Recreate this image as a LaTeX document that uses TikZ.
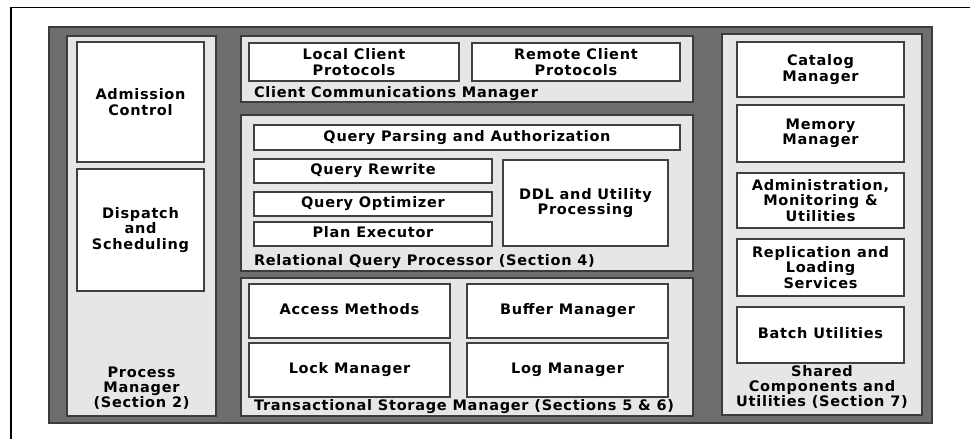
\documentclass[tikz,border=0pt]{standalone}
\usepackage{fontspec}
\setmainfont{DejaVu Sans}[LetterSpace=5]
\definecolor{darkpanel}{HTML}{6E6E6E}
\definecolor{darkedge}{HTML}{3C3C3C}
\definecolor{lightpanel}{HTML}{E6E6E6}
\definecolor{boxedge}{HTML}{404040}
\begin{document}
\begin{tikzpicture}[x=1pt,y=-1pt,
  every node/.style={font=\fontsize{14.5}{15.2}\selectfont\bfseries, inner sep=0pt, outer sep=0pt},
  panel/.style={draw=darkedge, fill=lightpanel, line width=1.6pt, anchor=north west},
  boxbase/.style={draw=boxedge, fill=white, line width=1.3pt, anchor=north west},
  compbox/.style={boxbase, align=center},
  oneline/.style={boxbase, text height=10.5pt, text depth=3pt},
  plabel/.style={anchor=west, text height=10.5pt, text depth=3pt},
  clabel/.style={align=center}]
\useasboundingbox (0,0) rectangle (970,439);
% outer frame
\draw[line width=1.8pt] (970,7.5) -- (11,7.5) -- (11,439);
% dark outer panel
\node[draw=darkedge, fill=darkpanel, line width=2pt, anchor=north west, minimum width=883pt, minimum height=396pt] (outer) at (49,27) {};
% Process manager
\node[panel, minimum width=149pt, minimum height=380pt] (pm) at (67,36) {};
\node[compbox, minimum width=127pt, minimum height=120pt] (ac) at (77,42) {Admission\\Control};
\node[compbox, minimum width=127pt, minimum height=122pt] (ds) at (77,169) {Dispatch\\and\\Scheduling};
\node[clabel] (pml) at (141.5,388) {Process\\Manager\\(Section 2)};
% Client communications manager
\node[panel, minimum width=452pt, minimum height=66pt] (ccm) at (241,36) {};
\node[compbox, minimum width=210pt, minimum height=38pt] (lcp) at (249,43) {Local Client\\Protocols};
\node[compbox, minimum width=208pt, minimum height=38pt] (rcp) at (472,43) {Remote Client\\Protocols};
\node[plabel] (ccml) at (254,94) {Client Communications Manager};
% Relational query processor
\node[panel, minimum width=452pt, minimum height=156pt] (rqp) at (241,115) {};
\node[oneline, minimum width=426pt, minimum height=25pt] (qpa) at (254,125) {Query Parsing and Authorization};
\node[oneline, minimum width=238pt, minimum height=24pt] (qr) at (254,159) {Query Rewrite};
\node[oneline, minimum width=238pt, minimum height=24pt] (qo) at (254,192) {Query Optimizer};
\node[oneline, minimum width=238pt, minimum height=24pt] (pe) at (254,222) {Plan Executor};
\node[compbox, minimum width=165pt, minimum height=86pt] (ddl) at (503,160) {DDL and Utility\\Processing};
\node[plabel] (rqpl) at (254,262) {Relational Query Processor (Section 4)};
% Transactional storage manager
\node[panel, minimum width=452pt, minimum height=138pt] (tsm) at (241,278) {};
\node[oneline, minimum width=201pt, minimum height=54pt] (am) at (249,284) {Access Methods};
\node[oneline, minimum width=201pt, minimum height=54pt] (bm) at (467,284) {Buffer Manager};
\node[oneline, minimum width=201pt, minimum height=54pt] (lm) at (249,343) {Lock Manager};
\node[oneline, minimum width=201pt, minimum height=54pt] (lgm) at (467,343) {Log Manager};
\node[plabel] (tsml) at (254,407) {Transactional Storage Manager (Sections 5 \& 6)};
% Shared components
\node[panel, minimum width=200pt, minimum height=381pt] (sc) at (722,34) {};
\node[compbox, minimum width=167pt, minimum height=55pt] (cm) at (737,42) {Catalog\\Manager};
\node[compbox, minimum width=167pt, minimum height=57pt] (mm) at (737,105) {Memory\\Manager};
\node[compbox, minimum width=167pt, minimum height=55pt] (amu) at (737,173) {Administration,\\Monitoring \&\\Utilities};
\node[compbox, minimum width=167pt, minimum height=57pt] (rls) at (737,239) {Replication and\\Loading\\Services};
\node[oneline, minimum width=167pt, minimum height=56pt] (bu) at (737,307) {Batch Utilities};
\node[clabel] (scl) at (822,387) {Shared\\Components and\\Utilities (Section 7)};
\end{tikzpicture}
\end{document}
